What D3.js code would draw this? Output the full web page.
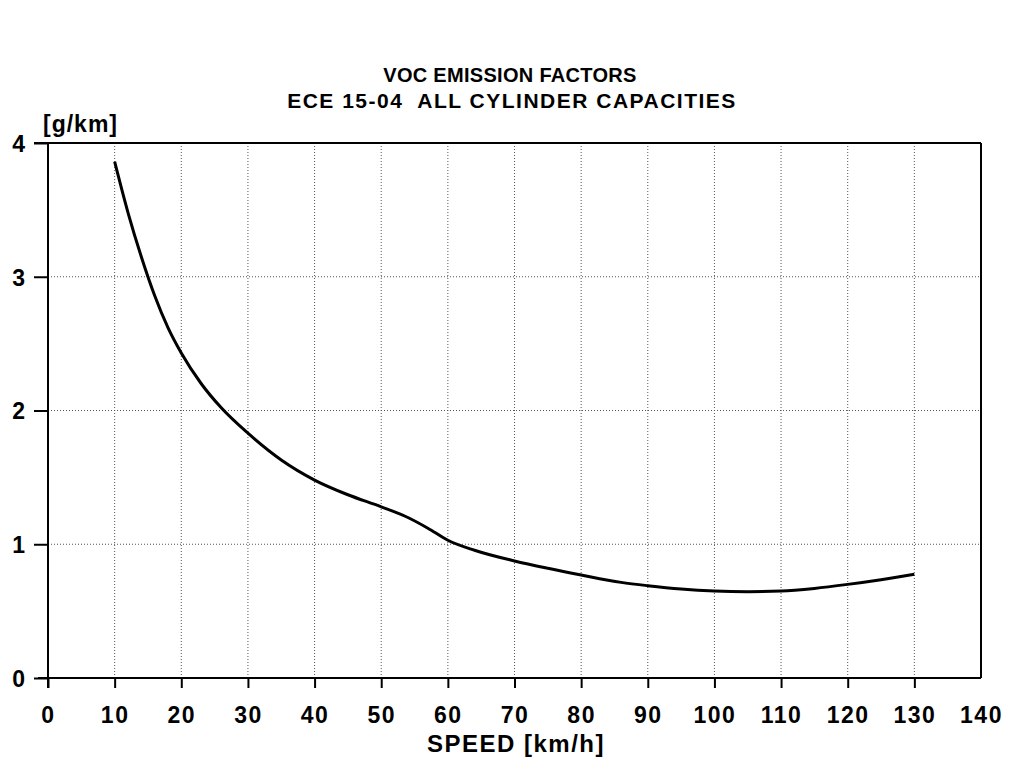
<!DOCTYPE html>
<html>
<head>
<meta charset="utf-8">
<script src="https://cdn.jsdelivr.net/npm/d3@7"></script>
<style>
  html, body { margin: 0; padding: 0; background: #fff; }
  svg text { font-family: "Liberation Sans", Arial, sans-serif; font-weight: bold; fill: #000; }
</style>
</head>
<body>
<svg id="chart" width="1011" height="760"></svg>
<script>
// ---- data ----
const titleLines = ["VOC EMISSION FACTORS", "ECE 15-04  ALL CYLINDER CAPACITIES"];
const xLabel = "SPEED [km/h]";
const yLabel = "[g/km]";
const xTicks = [0, 10, 20, 30, 40, 50, 60, 70, 80, 90, 100, 110, 120, 130, 140];
const yTicks = [0, 1, 2, 3, 4];
const speed = [10, 12, 14, 16, 18, 20, 23, 26, 30, 35, 40, 45, 50, 54, 57, 60, 64, 70, 75, 80, 86, 90, 95, 100, 105, 110, 115, 120, 125, 130];
const voc   = [3.86, 3.48, 3.15, 2.86, 2.62, 2.43, 2.20, 2.02, 1.83, 1.63, 1.48, 1.37, 1.28, 1.20, 1.12, 1.03, 0.955, 0.875, 0.82, 0.77, 0.715, 0.69, 0.665, 0.65, 0.645, 0.65, 0.67, 0.70, 0.735, 0.775];

// ---- layout ----
const svg = d3.select("#chart");
const x = d3.scaleLinear().domain([0, 140]).range([48, 981]);
const y = d3.scaleLinear().domain([0, 4]).range([678, 143]);
const FONT = "Liberation Sans, Arial, sans-serif";

// grid
const grid = svg.append("g").attr("stroke", "#555").attr("stroke-width", 1).attr("stroke-dasharray", "1,2");
grid.selectAll("line.v").data(xTicks.filter(d => d > 0 && d < 140)).join("line")
  .attr("x1", d => x(d)).attr("x2", d => x(d)).attr("y1", y(4)).attr("y2", y(0));
grid.selectAll("line.h").data(yTicks.filter(d => d > 0 && d < 4)).join("line")
  .attr("x1", x(0)).attr("x2", x(140)).attr("y1", d => y(d)).attr("y2", d => y(d));

// frame (top and right)
svg.append("line").attr("x1", 34).attr("x2", x(140)).attr("y1", y(4)).attr("y2", y(4)).attr("stroke", "#000").attr("stroke-width", 2);
svg.append("line").attr("x1", x(140)).attr("x2", x(140)).attr("y1", y(4)).attr("y2", y(0)).attr("stroke", "#000").attr("stroke-width", 2);

// x axis
const xAxis = svg.append("g").attr("transform", `translate(0,${y(0)})`)
  .call(d3.axisBottom(x).tickValues(xTicks).tickSize(10).tickPadding(19).tickFormat(d3.format("d")));
xAxis.select(".domain").attr("d", `M38,0H${x(140)}`).attr("stroke-width", 2);
xAxis.selectAll(".tick line").attr("stroke-width", 2).filter(d => d === 140).remove();
xAxis.selectAll(".tick text").attr("font-size", 23).attr("letter-spacing", "1.5px")
  .attr("font-family", FONT).attr("font-weight", "bold").attr("fill", "#000");

// y axis
const yAxis = svg.append("g").attr("transform", `translate(${x(0)},0)`)
  .call(d3.axisLeft(y).tickValues(yTicks).tickSize(14).tickPadding(9).tickFormat(d3.format("d")));
yAxis.select(".domain").attr("d", `M0,${y(4)}V${y(0) + 10}`).attr("stroke-width", 2);
yAxis.selectAll(".tick line").attr("stroke-width", 2);
yAxis.selectAll(".tick text").attr("font-size", 23).attr("dy", "0.36em")
  .attr("font-family", FONT).attr("font-weight", "bold").attr("fill", "#000");

// curve
const pts = speed.map((s, i) => [s, voc[i]]);
svg.append("path").datum(pts)
  .attr("fill", "none").attr("stroke", "#000").attr("stroke-width", 3).attr("stroke-linejoin", "round")
  .attr("d", d3.line().x(d => x(d[0])).y(d => y(d[1])).curve(d3.curveMonotoneX));

// titles
svg.append("text").attr("x", 510).attr("y", 82).attr("text-anchor", "middle").attr("font-size", 20).attr("letter-spacing", "0.3px").text(titleLines[0]);
svg.append("text").attr("x", 512).attr("y", 108).attr("text-anchor", "middle").attr("font-size", 21).attr("letter-spacing", "1.5px").style("white-space", "pre").text(titleLines[1]);
svg.append("text").attr("x", 43).attr("y", 132).attr("font-size", 23).attr("letter-spacing", "1px").text(yLabel);
svg.append("text").attr("x", 516).attr("y", 752).attr("text-anchor", "middle").attr("font-size", 24).attr("letter-spacing", "1.5px").text(xLabel);
</script>
</body>
</html>
